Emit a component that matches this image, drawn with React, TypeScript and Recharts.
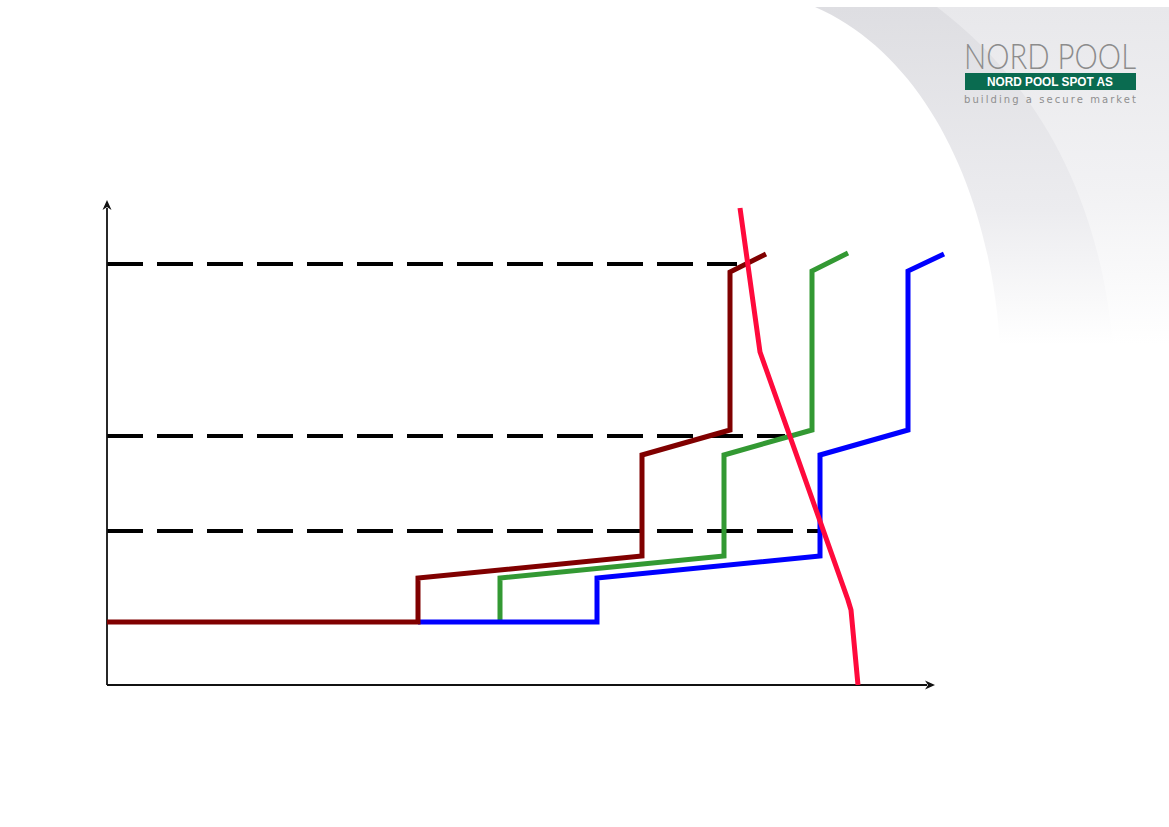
import { Line, LineChart, ReferenceLine, XAxis, YAxis } from "recharts";

const X_AXIS_END = 828;
const X_MAX = 843;
const Y_MAX = 485;

const supplyBrown = [
  { x: 0, y: 63 },
  { x: 311, y: 63 },
  { x: 311, y: 107 },
  { x: 535, y: 129 },
  { x: 535, y: 230 },
  { x: 623, y: 255 },
  { x: 623, y: 413 },
  { x: 659, y: 431 },
];

const supplyGreen = [
  { x: 393, y: 63 },
  { x: 393, y: 107 },
  { x: 617, y: 129 },
  { x: 617, y: 230 },
  { x: 705, y: 255 },
  { x: 705, y: 414 },
  { x: 741, y: 432 },
];

const supplyBlue = [
  { x: 311, y: 63 },
  { x: 490, y: 63 },
  { x: 490, y: 107 },
  { x: 713, y: 129 },
  { x: 713, y: 230 },
  { x: 801, y: 255 },
  { x: 801, y: 414 },
  { x: 837, y: 431 },
];

const demand = [
  { x: 633, y: 477 },
  { x: 653, y: 333 },
  { x: 741, y: 85 },
  { x: 744, y: 75 },
  { x: 751, y: 0 },
];

// price levels (dashed) and where they stop
const priceLevels = [
  { y: 421, xEnd: 630 },
  { y: 249, xEnd: 678 },
  { y: 154, xEnd: 713 },
];

const ArrowLine = (props: any) => {
  const { x1, y1, x2, y2 } = props;
  const ang = Math.atan2(y2 - y1, x2 - x1);
  const len = 10;
  const w = 4.5;
  const bx = x2 - len * Math.cos(ang);
  const by = y2 - len * Math.sin(ang);
  const px = -Math.sin(ang) * w;
  const py = Math.cos(ang) * w;
  return (
    <g>
      <line x1={x1} y1={y1} x2={bx + 2 * Math.cos(ang)} y2={by + 2 * Math.sin(ang)} stroke="#111" strokeWidth={1.8} />
      <polygon
        points={`${x2},${y2} ${bx + px},${by + py} ${bx + 3 * Math.cos(ang)},${by + 3 * Math.sin(ang)} ${bx - px},${by - py}`}
        fill="#111"
      />
    </g>
  );
};

function Backdrop() {
  return (
    <svg width={1169} height={827} style={{ position: "absolute", left: 0, top: 0 }}>
      <defs>
        <linearGradient id="swooshDark" x1="0" y1="0" x2="0" y2="1">
          <stop offset="0%" stopColor="#dedee2" />
          <stop offset="60%" stopColor="#ececef" />
          <stop offset="100%" stopColor="#ffffff" />
        </linearGradient>
        <linearGradient id="swooshLight" x1="0" y1="0" x2="0" y2="1">
          <stop offset="0%" stopColor="#e8e8eb" />
          <stop offset="55%" stopColor="#f2f2f4" />
          <stop offset="100%" stopColor="#ffffff" />
        </linearGradient>
      </defs>
      <path d="M815,7 C925,55 990,190 1000,345 L1169,345 L1169,7 Z" fill="url(#swooshDark)" />
      <path d="M937,7 C1040,85 1100,200 1113,345 L1169,345 L1169,7 Z" fill="url(#swooshLight)" />
      <text
        x={964}
        y={69}
        fontFamily="Lato, 'Open Sans', sans-serif"
        fontWeight={300}
        fontSize={36}
        fill="#8c8c8c"
        textLength={172}
        lengthAdjust="spacingAndGlyphs"
      >
        NORD POOL
      </text>
      <rect x={965} y={73} width={171} height={17} fill="#0a6b50" />
      <text
        x={1050}
        y={86}
        textAnchor="middle"
        fontFamily="'Liberation Sans', Arial, sans-serif"
        fontWeight={700}
        fontSize={12}
        fill="#ffffff"
        textLength={126}
        lengthAdjust="spacingAndGlyphs"
      >
        NORD POOL SPOT AS
      </text>
      <text
        x={964}
        y={103}
        fontFamily="'DejaVu Sans', sans-serif"
        fontSize={10}
        fill="#8f8f8f"
        textLength={172}
        lengthAdjust="spacing"
      >
        building a secure market
      </text>
    </svg>
  );
}

export default function App() {
  return (
    <div style={{ position: "absolute", left: 0, top: 0, width: 1169, height: 827, background: "#fff" }}>
      <Backdrop />
      <div style={{ position: "absolute", left: 0, top: 0 }}>
        <LineChart width={1169} height={827} margin={{ top: 200, right: 219, bottom: 142, left: 107 }}>
          <XAxis type="number" dataKey="x" domain={[0, X_MAX]} hide allowDataOverflow />
          <YAxis type="number" dataKey="y" domain={[0, Y_MAX]} hide width={0} allowDataOverflow />
          {priceLevels.map((p) => (
            <ReferenceLine
              key={p.y}
              segment={[
                { x: 0, y: p.y },
                { x: p.xEnd, y: p.y },
              ]}
              stroke="#000"
              strokeWidth={4}
              strokeDasharray="36 14"
              ifOverflow="visible"
            />
          ))}
          <ReferenceLine
            segment={[
              { x: 0, y: 0 },
              { x: X_AXIS_END, y: 0 },
            ]}
            shape={ArrowLine}
            ifOverflow="visible"
          />
          <ReferenceLine
            segment={[
              { x: 0, y: 0 },
              { x: 0, y: Y_MAX },
            ]}
            shape={ArrowLine}
            ifOverflow="visible"
          />
          <Line data={supplyGreen} dataKey="y" type="linear" stroke="#339933" strokeWidth={5} strokeLinejoin="miter" dot={false} isAnimationActive={false} />
          <Line data={supplyBlue} dataKey="y" type="linear" stroke="#0000ff" strokeWidth={5} strokeLinejoin="miter" dot={false} isAnimationActive={false} />
          <Line data={supplyBrown} dataKey="y" type="linear" stroke="#800000" strokeWidth={5} strokeLinejoin="miter" dot={false} isAnimationActive={false} />
          <Line data={demand} dataKey="y" type="linear" stroke="#ff0a3c" strokeWidth={5} strokeLinejoin="miter" dot={false} isAnimationActive={false} />
        </LineChart>
      </div>
    </div>
  );
}
